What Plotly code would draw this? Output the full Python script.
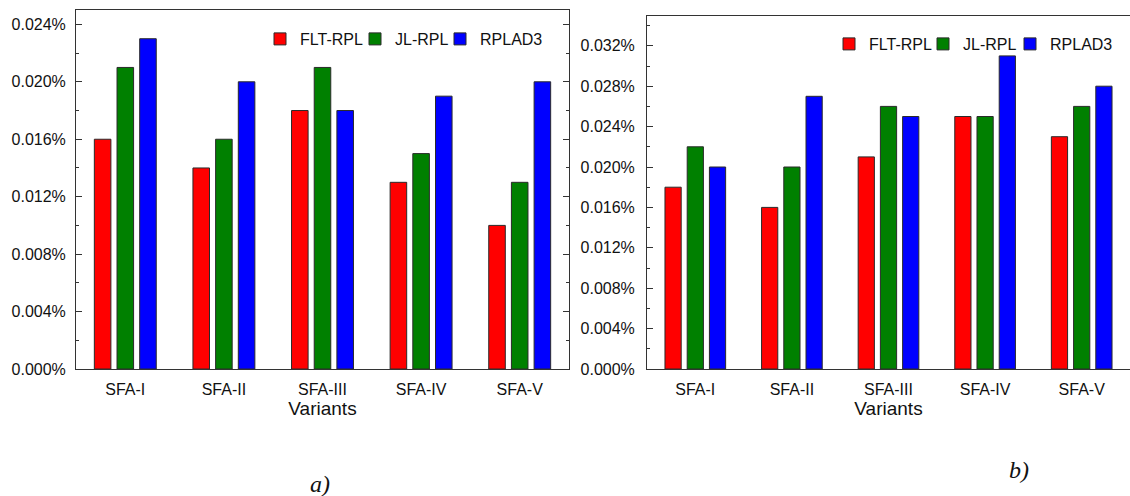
import plotly.graph_objects as go

categories = ["SFA-I", "SFA-II", "SFA-III", "SFA-IV", "SFA-V"]
series_names = ["FLT-RPL", "JL-RPL", "RPLAD3"]
colors = ["#FF0000", "#008000", "#0000FF"]

# panel a) values in percent
a_flt = [0.016, 0.014, 0.018, 0.013, 0.010]
a_jl = [0.021, 0.016, 0.021, 0.015, 0.013]
a_rplad3 = [0.023, 0.020, 0.018, 0.019, 0.020]

# panel b) values in percent
b_flt = [0.018, 0.016, 0.021, 0.025, 0.023]
b_jl = [0.022, 0.020, 0.026, 0.025, 0.026]
b_rplad3 = [0.020, 0.027, 0.025, 0.031, 0.028]

W, H = 1130, 496
FONT = "Liberation Sans, Arial, sans-serif"

def px_x(p):
    return p / W

def px_y(p):
    return 1 - p / H

# legend entry positions (pixel x of each entry, pixel y top) per panel
legend_x_a = [260, 355, 440]
legend_x_b = [829, 923, 1010]
legend_y_a = 22
legend_y_b = 27

fig = go.Figure()
legend_layout = {}
k = 1
for panel, (xa, ya, datasets, lx, ly) in enumerate([
        ("x", "y", [a_flt, a_jl, a_rplad3], legend_x_a, legend_y_a),
        ("x2", "y2", [b_flt, b_jl, b_rplad3], legend_x_b, legend_y_b)]):
    for i, (name, col, vals) in enumerate(zip(series_names, colors, datasets)):
        lg = "legend" if k == 1 else f"legend{k}"
        fig.add_trace(go.Bar(x=categories, y=vals, name=name, showlegend=True,
                             marker=dict(color=col, line=dict(color="#2a2a2a", width=1)),
                             xaxis=xa, yaxis=ya, legend=lg))
        legend_layout[lg] = dict(orientation="h", xanchor="left", yanchor="top", x=px_x(lx[i]), y=px_y(ly),
                                 bgcolor="rgba(0,0,0,0)", font=dict(family=FONT, size=16),
                                 itemwidth=30, tracegroupgap=0, visible=True)
        k += 1

axis_common = dict(showline=True, linecolor="#333333", linewidth=1, showgrid=False, zeroline=False,
                   tickfont=dict(family=FONT, size=16, color="#111111"))

fig.update_layout(
    width=W, height=H,
    showlegend=True,
    margin=dict(l=0, r=0, t=0, b=0, autoexpand=False),
    paper_bgcolor="white", plot_bgcolor="white",
    barmode="group", bargap=0.31, bargroupgap=0.27,
    font=dict(family=FONT, color="#111111"),
    xaxis=dict(domain=[px_x(76), px_x(569)], anchor="y", mirror=True, ticks="", range=[-0.5, 4.5],
               title=dict(text="Variants", font=dict(family=FONT, size=19), standoff=4),
               ticklabelstandoff=6, automargin=False, **axis_common),
    yaxis=dict(domain=[px_y(369), px_y(10)], anchor="x", mirror="allticks", range=[0, 0.025],
               tick0=0, dtick=0.004,
               tickformat=".3f", ticksuffix="%", ticks="inside", ticklen=6, tickcolor="#333333",
               minor=dict(dtick=0.002, ticks="inside", ticklen=3, tickcolor="#333333"),
               ticklabelstandoff=6, automargin=False, **axis_common),
    xaxis2=dict(domain=[px_x(647), 1.0], anchor="y2", mirror=True, ticks="", range=[-0.5, 4.5],
                title=dict(text="Variants", font=dict(family=FONT, size=19), standoff=4),
                ticklabelstandoff=6, automargin=False, **axis_common),
    yaxis2=dict(domain=[px_y(369), px_y(15.5)], anchor="x2", mirror=False, range=[0, 0.035],
                tick0=0, dtick=0.004,
                tickformat=".3f", ticksuffix="%", ticks="inside", ticklen=6, tickcolor="#333333",
                minor=dict(dtick=0.002, ticks="inside", ticklen=3, tickcolor="#333333"),
                ticklabelstandoff=8, automargin=False, **axis_common),
    annotations=[
        dict(text="a)", x=px_x(320), y=px_y(484), xref="paper", yref="paper", showarrow=False,
             xanchor="center", yanchor="middle",
             font=dict(family="Liberation Serif, serif", size=24, style="italic", color="#111111")),
        dict(text="b)", x=px_x(1019), y=px_y(470), xref="paper", yref="paper", showarrow=False,
             xanchor="center", yanchor="middle",
             font=dict(family="Liberation Serif, serif", size=24, style="italic", color="#111111")),
    ],
    **legend_layout,
)

fig.write_html("out.html", config={"displayModeBar": False},
               post_script="document.body.style.margin='0';document.body.style.overflow='hidden';")
